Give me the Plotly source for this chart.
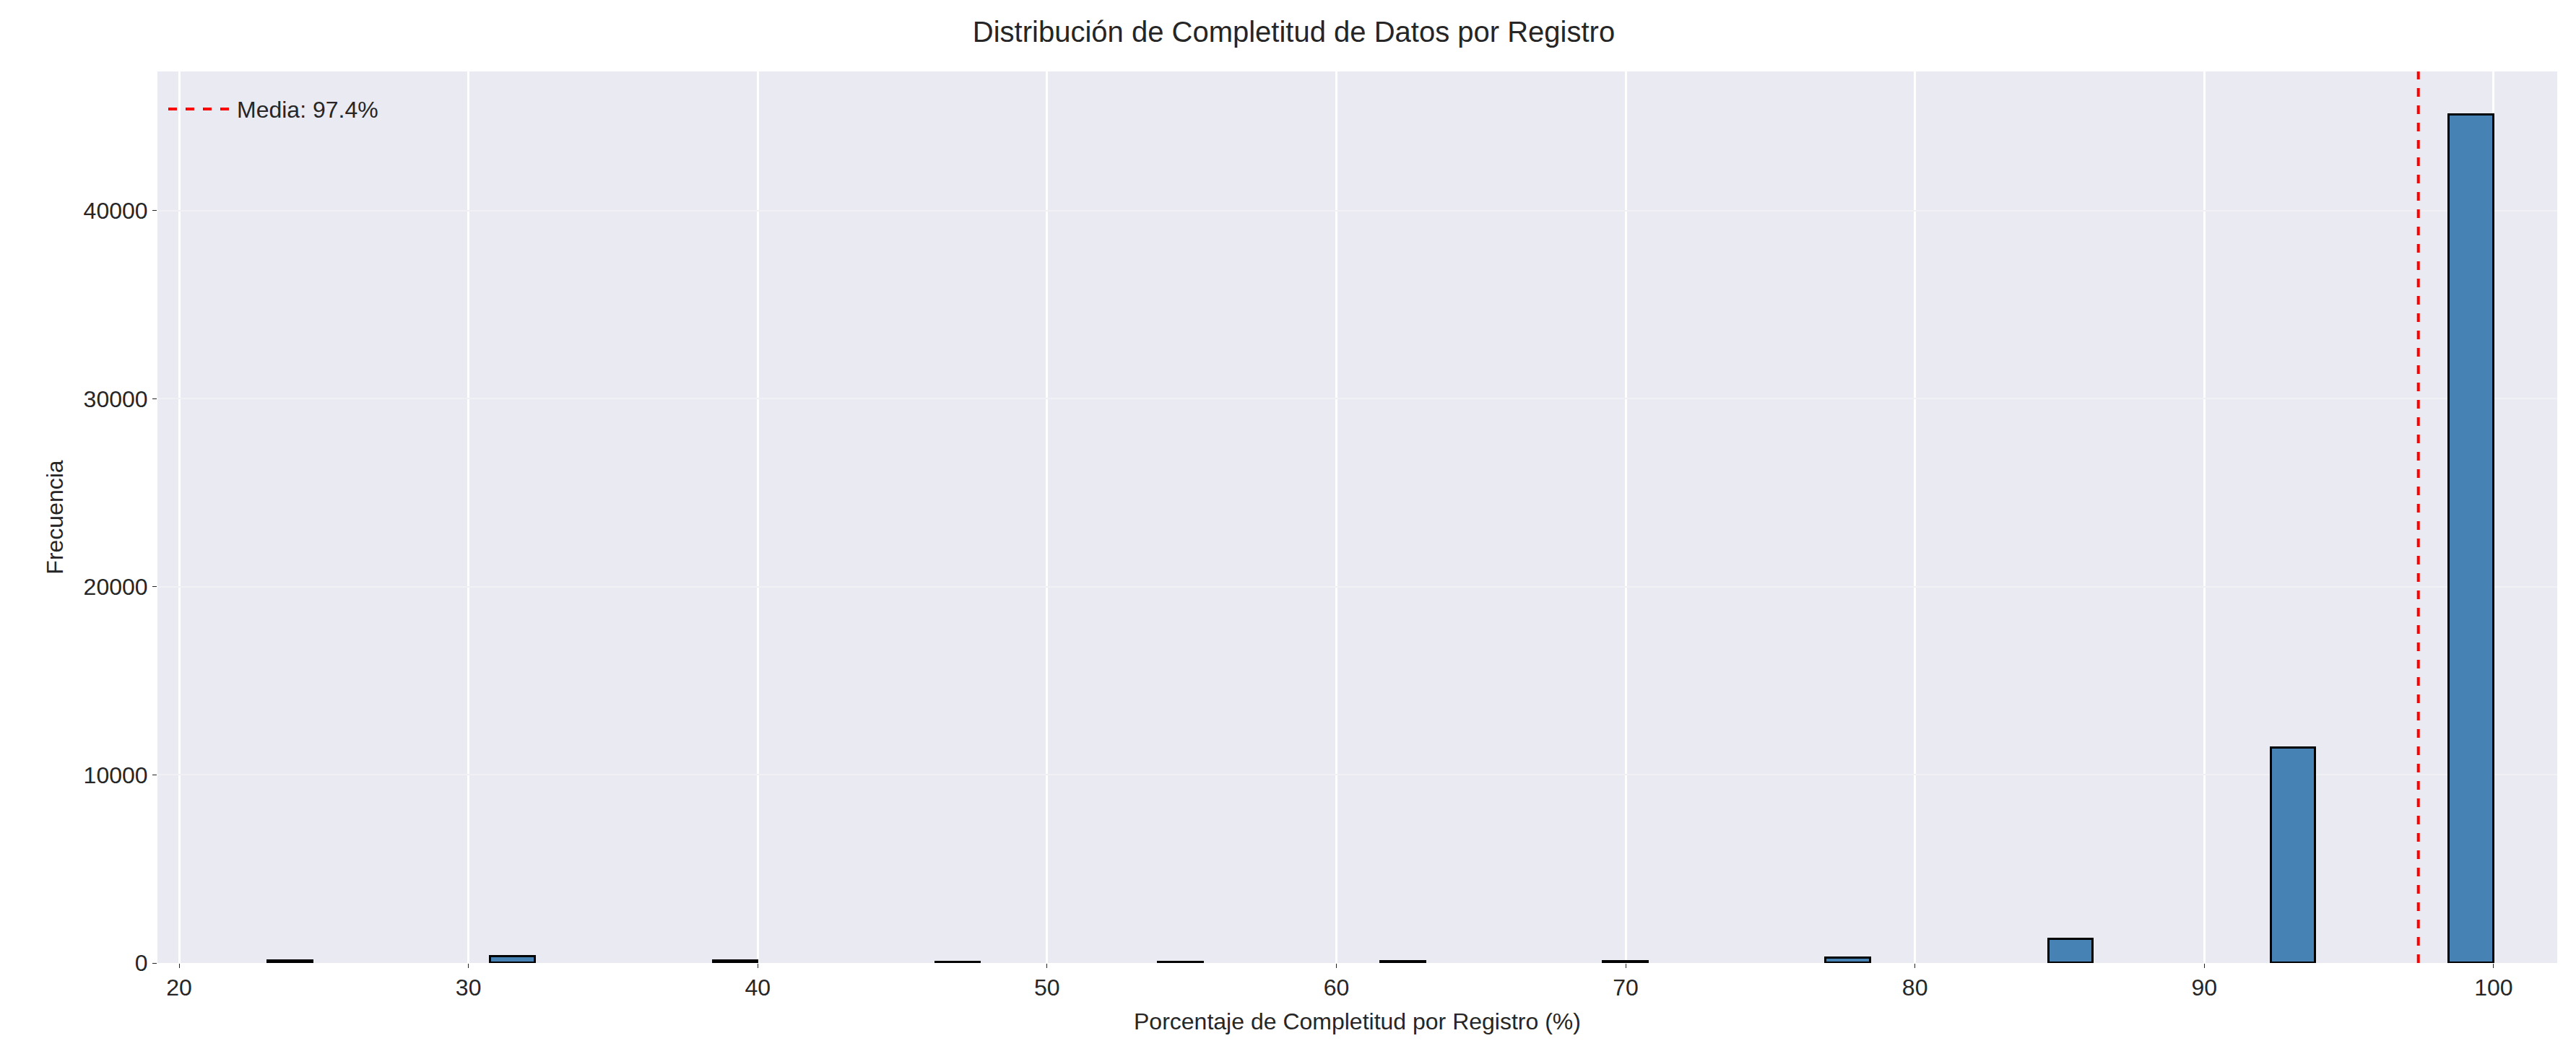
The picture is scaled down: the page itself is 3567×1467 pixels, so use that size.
import plotly.graph_objects as go

values = [23.08, 30.77, 38.46, 46.15, 53.85, 61.54, 69.23, 76.92, 84.62, 92.31, 100.0]
counts = [120, 350, 110, 25, 25, 60, 60, 250, 1250, 11450, 45100]
mean_val = 97.4
bin_w = (100 - 23.077) / 50

centers = [min(v, 100 - bin_w) + bin_w / 2 for v in values]

fig = go.Figure()
fig.add_trace(go.Bar(x=centers, y=counts, width=bin_w, marker=dict(color="#4682B4", line=dict(color="black", width=3)),
                     showlegend=False))
fig.add_trace(go.Scatter(x=[mean_val, mean_val], y=[0, 47400], mode="lines",
                         line=dict(color="red", dash="dash", width=4), name="Media: 97.4%"))

font = "Liberation Sans, Arial, sans-serif"
fig.update_layout(
    width=3567, height=1467,
    paper_bgcolor="white", plot_bgcolor="#EAEAF2",
    margin=dict(l=210, r=34, t=91, b=141),
    font=dict(family=font, size=32, color="#262626"),
    title=dict(text="Distribución de Completitud de Datos por Registro", x=0.5, xanchor="center", y=0.985, yanchor="top",
               font=dict(size=40)),
    xaxis=dict(range=[19.25, 102.2], tickvals=[20, 30, 40, 50, 60, 70, 80, 90, 100], gridcolor="white", gridwidth=3,
               zeroline=False, showline=False, ticks="outside", ticklen=6, tickcolor="#262626",
               title=dict(text="Porcentaje de Completitud por Registro (%)", standoff=18, font=dict(size=32))),
    yaxis=dict(range=[0, 47400], tickvals=[0, 10000, 20000, 30000, 40000], tickformat="d", gridcolor="#F0F0F5", gridwidth=2,
               zeroline=False, showline=False, ticks="outside", ticklen=6, tickcolor="#262626",
               title=dict(text="Frecuencia", standoff=18, font=dict(size=32))),
    legend=dict(x=0.003, y=0.98, xanchor="left", yanchor="top", bgcolor="rgba(0,0,0,0)", font=dict(size=32),
                itemwidth=90),
    bargap=0,
)
fig.write_html("out.html")
